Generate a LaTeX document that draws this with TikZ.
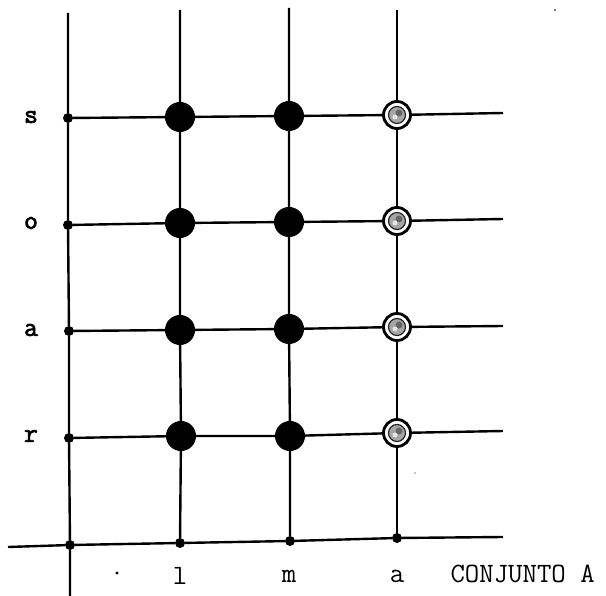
\documentclass[tikz,border=0pt]{standalone}
\usepackage{fontspec}
\newfontfamily\rowfont[FakeBold=2.5]{Latin Modern Mono}
\newfontfamily\colfont{Latin Modern Mono}
\begin{document}
\begin{tikzpicture}[x=1pt,y=-1pt,
  ln/.style={line width=2.4pt},
  dotnode/.style={circle,fill=black,inner sep=0pt,minimum size=10pt},
  blackball/.style={circle,fill=black,draw=black,line width=1pt,inner sep=0pt,minimum size=29pt},
  whiteball/.style={circle,fill=white,draw=black,line width=2.8pt,inner sep=0pt,minimum size=27pt,
    path picture={\fill[gray!70,draw=black!85,line width=1.2pt] (path picture bounding box.center) circle (8.5pt);
                  \fill[black!60] ([shift={(2pt,2pt)}]path picture bounding box.center) circle (3.5pt);
                  \fill[gray!20] ([shift={(-2pt,-2pt)}]path picture bounding box.center) circle (2.5pt);}},
  rowlab/.style={font=\fontsize{27}{27}\selectfont\rowfont},
  collab/.style={font=\fontsize{28}{28}\selectfont\colfont},
]
\useasboundingbox (0,0) rectangle (606,596);
% coordinates
\coordinate (T0) at (68,13);
\coordinate (T1) at (180,10);
\coordinate (T2) at (289,8);
\coordinate (T3) at (397,10);
\coordinate (B0) at (70,596);
\coordinate (AL) at (8,547);
\coordinate (AR) at (503,537);
\coordinate (Rs) at (503,113);
\coordinate (Ro) at (503,219);
\coordinate (Ra) at (503,326);
\coordinate (Rr) at (503,431);
% left dots
\node[dotnode] (Ls) at (68,118) {};
\node[dotnode] (Lo) at (68,225) {};
\node[dotnode] (La) at (69,331) {};
\node[dotnode] (Lr) at (69,438) {};
\node[dotnode] (O) at (70,545) {};
\node[dotnode] (A1) at (180,543) {};
\node[dotnode] (A2) at (290,541) {};
\node[dotnode] (A3) at (397,538) {};
% ball positions
\coordinate (c1s) at (180,117); \coordinate (c2s) at (289,116); \coordinate (c3s) at (397,115);
\coordinate (c1o) at (180,223); \coordinate (c2o) at (289,222); \coordinate (c3o) at (397,221);
\coordinate (c1a) at (180,330); \coordinate (c2a) at (289,329); \coordinate (c3a) at (397,327);
\coordinate (c1r) at (181,436); \coordinate (c2r) at (290,436); \coordinate (c3r) at (397,433);
% lines
\draw[ln] (T0) -- (Ls) -- (Lo) -- (La) -- (Lr) -- (O) -- (B0);
\draw[ln] (T1) -- (c1s) -- (c1o) -- (c1a) -- (c1r) -- (A1);
\draw[ln] (T2) -- (c2s) -- (c2o) -- (c2a) -- (c2r) -- (A2);
\draw[ln] (T3) -- (c3s) -- (c3o) -- (c3a) -- (c3r) -- (A3);
\draw[ln] (AL) -- (O) -- (A1) -- (A2) -- (A3) -- (AR);
\draw[ln] (Ls) -- (c1s) -- (c2s) -- (c3s) -- (Rs);
\draw[ln] (Lo) -- (c1o) -- (c2o) -- (c3o) -- (Ro);
\draw[ln] (La) -- (c1a) -- (c2a) -- (c3a) -- (Ra);
\draw[ln] (Lr) -- (c1r) -- (c2r) -- (c3r) -- (Rr);
% balls
\foreach \r in {s,o,a,r}{
  \node[blackball] (b1\r) at (c1\r) {};
  \node[blackball] (b2\r) at (c2\r) {};
  \node[whiteball] (b3\r) at (c3\r) {};
}
% row labels
\node[rowlab] (ls) at (31,117) {s};
\node[rowlab] (lo) at (31,223) {o};
\node[rowlab] (la) at (31,330) {a};
\node[rowlab] (lr) at (31,436) {r};
% column labels
\node[collab] (xl) at (180,576) {l};
\node[collab] (xm) at (289,576) {m};
\node[collab] (xa) at (397,576) {a};
\node[collab,anchor=west] (conj) at (447,574) {CONJUNTO A};
% specks
\fill (117,573) circle (1.6pt);
\fill (555,10) circle (0.8pt);
\fill (415,473) circle (0.7pt);
\end{tikzpicture}
\end{document}
